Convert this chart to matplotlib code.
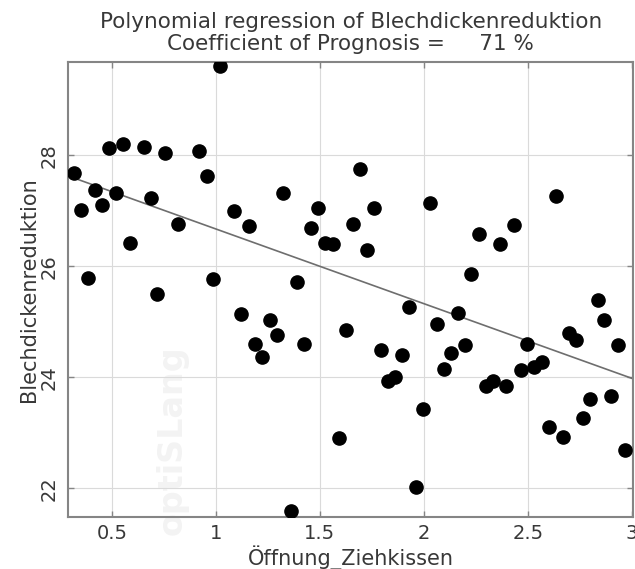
import numpy as np
import matplotlib
matplotlib.use("Agg")
import matplotlib.pyplot as plt

# Sample data: Öffnung_Ziehkissen vs. Blechdickenreduktion
oeffnung = [1.020, 0.486, 0.553, 0.653, 0.754, 0.921, 0.317, 0.955, 0.417, 0.521,
            0.687, 0.451, 0.350, 1.088, 1.160, 0.819, 0.585, 0.385, 0.987, 0.717,
            1.120, 1.259, 1.292, 1.186, 1.223, 1.426, 1.627, 1.794, 1.897, 1.830,
            1.862, 1.929, 2.065, 2.095, 1.998, 1.594, 1.963, 1.359, 1.694, 1.325,
            1.491, 1.760, 2.030, 1.458, 1.659, 1.527, 1.562, 1.728, 1.391, 2.636,
            2.433, 2.264, 2.365, 2.229, 2.836, 2.868, 2.700, 2.732, 2.935, 2.497,
            2.165, 2.197, 2.130, 2.466, 2.532, 2.569, 2.301, 2.333, 2.396, 2.800,
            2.903, 2.767, 2.601, 2.668, 2.968]
reduktion = [29.61, 28.13, 28.20, 28.15, 28.05, 28.08, 27.68, 27.63, 27.37, 27.33,
             27.24, 27.10, 27.01, 27.00, 26.73, 26.77, 26.43, 25.80, 25.77, 25.51,
             25.14, 25.04, 24.76, 24.60, 24.36, 24.61, 24.86, 24.49, 24.41, 23.93,
             24.00, 25.27, 24.97, 24.16, 23.44, 22.90, 22.02, 21.59, 27.75, 27.33,
             27.06, 27.06, 27.15, 26.69, 26.76, 26.43, 26.40, 26.29, 25.72, 27.27,
             26.74, 26.58, 26.40, 25.86, 25.39, 25.03, 24.80, 24.67, 24.58, 24.61,
             25.17, 24.59, 24.44, 24.13, 24.19, 24.27, 23.84, 23.93, 23.85, 23.62,
             23.67, 23.26, 23.11, 22.92, 22.70]

# Regression model: intercept, slope
reg_coef = [28.02, -1.345]
prognosis_pct = 71

x_ticks = [0.5, 1, 1.5, 2, 2.5, 3]
x_ticklabels = ["0.5", "1", "1.5", "2", "2.5", "3"]
y_ticks = [22, 24, 26, 28]
y_ticklabels = ["22", "24", "26", "28"]
x_range = (0.29, 3.008)
y_range = (21.49, 29.69)

frame_c = "#858585"
text_c = "#383838"
fig = plt.figure(figsize=(6.35, 5.69), dpi=100)
ax = fig.add_axes([0.1076, 0.0919, 0.8897, 0.7997])

ax.set_xlim(*x_range)
ax.set_ylim(*y_range)

# faint watermark
ax.text(0.183, 0.169, "optiSLang", transform=ax.transAxes,
        rotation=90, fontsize=24, fontweight="bold", color="#f3f3f3",
        ha="center", va="center", zorder=0, clip_on=False)

ax.grid(True, color="#dadada", linewidth=0.8, zorder=1)
ax.set_axisbelow(True)

xs = np.linspace(x_range[0], x_range[1], 50)
ax.plot(xs, reg_coef[0] + reg_coef[1] * xs, color="#6e6e6e", linewidth=1.2, zorder=2)
ax.plot(oeffnung, reduktion, "o", color="black", markersize=9.5, zorder=3, clip_on=True)

ax.set_xticks(x_ticks)
ax.set_xticklabels(x_ticklabels)
ax.set_yticks(y_ticks)
ax.set_yticklabels(y_ticklabels, rotation=90, va="center")

ax.tick_params(direction="in", length=4, width=1.0, color=frame_c,
               top=True, right=True, labelsize=14, labelcolor=text_c)
ax.tick_params(axis="x", pad=5)
ax.tick_params(axis="y", pad=7)
for s in ax.spines.values():
    s.set_color(frame_c)
    s.set_linewidth(1.5)

ax.set_xlabel("Öffnung_Ziehkissen", fontsize=15, color=text_c, va="top")
ax.xaxis.set_label_coords(0.5, -0.062)
ax.set_ylabel("Blechdickenreduktion", fontsize=15, color=text_c)
ax.yaxis.set_label_coords(-0.052, 0.5)

fig.text(0.5523, 0.950, "Polynomial regression of Blechdickenreduktion",
         ha="center", va="baseline", fontsize=15.5, color=text_c)
fig.text(0.5523, 0.913, "Coefficient of Prognosis =     %d %%" % prognosis_pct,
         ha="center", va="baseline", fontsize=15.5, color=text_c)

fig.savefig("out.png", dpi=100)
